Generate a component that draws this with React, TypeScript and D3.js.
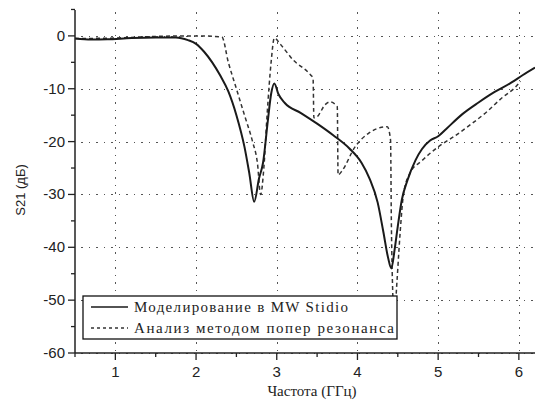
import React from "react";
import * as d3 from "d3";

// частота (ГГц), S21 (дБ)
const simFreq = [0.5, 0.7, 0.9, 1.2, 1.5, 1.75, 1.9, 2.0, 2.1, 2.2, 2.3, 2.4, 2.5, 2.6, 2.66, 2.72, 2.78, 2.83, 2.89, 2.93, 2.97, 3.02, 3.1, 3.3, 3.5, 3.7, 3.9, 4.05, 4.15, 4.25, 4.32, 4.38, 4.42, 4.46, 4.5, 4.55, 4.62, 4.72, 4.8, 4.9, 5.0, 5.1, 5.3, 5.5, 5.7, 5.9, 6.05, 6.2];
const simDb = [-0.5, -0.7, -0.65, -0.4, -0.3, -0.3, -0.8, -1.5, -3.0, -5.0, -7.5, -10.5, -15, -21, -26, -31.4, -27, -24, -16, -11, -9, -11, -12.7, -14.6, -16.6, -18.8, -21.3, -24, -27, -31.5, -37, -42, -44, -40.5, -36, -31, -27.3, -23.5, -21.4, -19.8, -19, -17.6, -14.8, -12.6, -10.6, -8.9, -7.4, -6.0];

const resFreq = [0.5, 1.0, 1.5, 2.0, 2.32, 2.4, 2.5, 2.6, 2.7, 2.76, 2.8, 2.84, 2.88, 2.93, 2.97, 3.04, 3.2, 3.42, 3.45, 3.46, 3.5, 3.6, 3.66, 3.75, 3.76, 3.81, 3.97, 4.14, 4.3, 4.37, 4.41, 4.42, 4.44, 4.46, 4.47, 4.5, 4.53, 4.57, 4.65, 4.8, 5.0, 5.2, 5.4, 5.6, 5.8, 5.95, 6.02];
const resDb = [-0.5, -0.4, -0.1, 0, -0.2, -5, -10, -15, -20, -24, -30, -25, -15, -5, -0.4, -1.5, -4.5, -7.4, -8, -15.5, -15.3, -13, -12.5, -13.4, -26.3, -25.5, -21, -18.4, -17.3, -17.2, -19.7, -35, -50, -56, -52, -44, -37, -30, -26, -23.6, -21, -19, -16.8, -14.4, -11.6, -9.8, -8.6];

const xTicks = [1, 2, 3, 4, 5, 6];
const yTicks = [0, -10, -20, -30, -40, -50, -60];
const legendLabels = ["Моделирование в MW Stidio", "Анализ методом попер резонанса"];

const W = 535;
const H = 402;
const left = 75;
const right = 535;
const top = 10;
const bottom = 353;

export default function App() {
  const x = d3.scaleLinear().domain([0.5, 6.2]).range([left, right]);
  const y = d3.scaleLinear().domain([-60, 4.9]).range([bottom, top]);

  const line = d3
    .line<[number, number]>()
    .x((d) => x(d[0]))
    .y((d) => y(d[1]))
    .curve(d3.curveMonotoneX);

  const sim = simFreq.map((f, i) => [f, simDb[i]] as [number, number]);
  const res = resFreq.map((f, i) => [f, resDb[i]] as [number, number]);

  const xMinor = d3.range(0.5, 6.21, 0.5);
  const yMinor = d3.range(-60, 5.1, 5);
  const sans = "Liberation Sans, Arial, sans-serif";
  const serif = "Liberation Serif, Times New Roman, serif";

  return (
    <svg width={W} height={H} style={{ position: "absolute", left: 0, top: 0, background: "#fff" }}>
      <defs>
        <clipPath id="plot">
          <rect x={left} y={top} width={right - left} height={bottom - top} />
        </clipPath>
      </defs>

      {/* grid */}
      <g shapeRendering="crispEdges">
        {xTicks.map((t) => (
          <line key={"gx" + t} x1={Math.round(x(t)) + 0.5} x2={Math.round(x(t)) + 0.5} y1={top + 2} y2={bottom} stroke="#555" strokeWidth={1.5} strokeDasharray="1.5,6" />
        ))}
        {yTicks.map((t) => (
          <line key={"gy" + t} x1={left + 6} x2={right} y1={Math.round(y(t)) + 0.5} y2={Math.round(y(t)) + 0.5} stroke="#555" strokeWidth={1.5} strokeDasharray="1.5,6" />
        ))}
      </g>

      {/* curves */}
      <g clipPath="url(#plot)">
        <path d={line(res) || ""} fill="none" stroke="#333" strokeWidth={1.5} strokeDasharray="4,3" />
        <path d={line(sim) || ""} fill="none" stroke="#1a1a1a" strokeWidth={2} />
      </g>

      {/* axes */}
      <line x1={left} x2={left} y1={top} y2={bottom} stroke="#222" strokeWidth={1.5} />
      <line x1={left} x2={right} y1={bottom} y2={bottom} stroke="#222" strokeWidth={1.5} />
      {yMinor.map((t) => (
        <line key={"ty" + t} x1={left - (t % 10 === 0 ? 7 : 4)} x2={left} y1={y(t)} y2={y(t)} stroke="#222" strokeWidth={1.3} />
      ))}
      {xMinor.map((t) => (
        <line key={"tx" + t} x1={x(t)} x2={x(t)} y1={bottom} y2={bottom + (Number.isInteger(t) ? 7 : 4)} stroke="#222" strokeWidth={1.3} />
      ))}
      {yTicks.map((t) => (
        <text key={"ly" + t} x={left - 10} y={y(t) + 5} textAnchor="end" fontFamily={sans} fontSize={15} fill="#222">
          {t}
        </text>
      ))}
      {xTicks.map((t) => (
        <text key={"lx" + t} x={x(t)} y={bottom + 24} textAnchor="middle" fontFamily={sans} fontSize={15} fill="#222">
          {t}
        </text>
      ))}

      {/* titles */}
      <text x={312} y={396} textAnchor="middle" fontFamily={serif} fontSize={15} fill="#222">
        Частота (ГГц)
      </text>
      <text transform="translate(25,190) rotate(-90)" textAnchor="middle" fontFamily={sans} fontSize={13} fill="#222">
        S21 (дБ)
      </text>

      {/* legend */}
      <rect x={83} y={296} width={314} height={43} fill="#fff" stroke="#111" strokeWidth={1.3} />
      <line x1={91} x2={128} y1={307} y2={307} stroke="#1a1a1a" strokeWidth={1.5} />
      <line x1={91} x2={128} y1={328} y2={328} stroke="#333" strokeWidth={1.3} strokeDasharray="3,3" />
      <text x={134} y={312} fontFamily={serif} fontSize={15} fill="#222" textLength={214} lengthAdjust="spacing">
        {legendLabels[0]}
      </text>
      <text x={134} y={333} fontFamily={serif} fontSize={15} fill="#222" textLength={260} lengthAdjust="spacing">
        {legendLabels[1]}
      </text>
    </svg>
  );
}
